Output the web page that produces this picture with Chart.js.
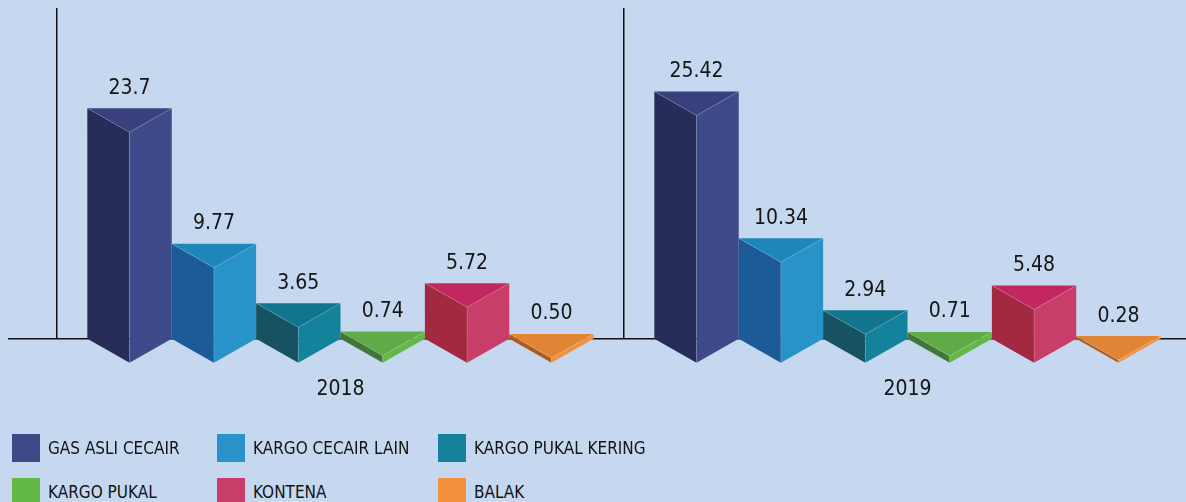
<!DOCTYPE html>
<html>
<head>
<meta charset="utf-8">
<script src="https://cdn.jsdelivr.net/npm/chart.js@4.4.1/dist/chart.umd.min.js"></script>
<style>
html, body { margin: 0; padding: 0; background: #c5d8ef; overflow: hidden; width: 1186px; height: 502px; }
#wrap { position: absolute; left: 0; top: 0; width: 1191px; height: 440px; }
.item { position: absolute; display: flex; align-items: center; font-family: "Liberation Sans Narrow", "Arial Narrow", "DejaVu Sans Condensed", sans-serif; font-size: 17px; color: #141414; white-space: nowrap; }
.box { width: 28px; height: 28px; margin-right: 8px; }
</style>
</head>
<body>
<div id="wrap"><canvas id="chart" width="1191" height="440"></canvas></div>
<div id="legend"></div>
<script>
// data
const years = ['2018', '2019'];
const seriesNames = ['GAS ASLI CECAIR', 'KARGO CECAIR LAIN', 'KARGO PUKAL KERING', 'KARGO PUKAL', 'KONTENA', 'BALAK'];
const values2018 = [23.7, 9.77, 3.65, 0.74, 5.72, 0.50];
const values2019 = [25.42, 10.34, 2.94, 0.71, 5.48, 0.28];
const labels2018 = ['23.7', '9.77', '3.65', '0.74', '5.72', '0.50'];
const labels2019 = ['25.42', '10.34', '2.94', '0.71', '5.48', '0.28'];

// prism face colours
const rightFace = ['#3e4a8a', '#2893c8', '#13829b', '#63b946', '#c83e68', '#f4913e'];
const leftFace = ['#272d58', '#1c5a98', '#175263', '#41783a', '#a2293f', '#ad5c1f'];
const topFace = ['#3a3f7e', '#1e86b8', '#12758e', '#5eab47', '#c2285f', '#e08436'];

const FONT = '"Liberation Sans Narrow", "Arial Narrow", "DejaVu Sans Condensed", sans-serif';

var datasets = seriesNames.map((name, i) => ({
    label: name,
    data: [values2018[i], values2019[i]],
    valueLabels: [labels2018[i], labels2019[i]],
    backgroundColor: rightFace[i],
    leftColor: leftFace[i],
    topColor: topFace[i]
}));

function poly(c, pts, fill) {
    c.beginPath();
    c.moveTo(pts[0][0], pts[0][1]);
    for (var k = 1; k < pts.length; k++) c.lineTo(pts[k][0], pts[k][1]);
    c.closePath();
    c.fillStyle = fill;
    c.fill();
}

const prismPlugin = {
    id: 'prisms',
    beforeDatasetsDraw(chart) {
        const c = chart.ctx;
        const y0 = chart.scales.y.getPixelForValue(0);
        c.save();
        // baseline
        c.strokeStyle = '#111';
        c.lineWidth = 1.5;
        c.beginPath();
        c.moveTo(8, y0);
        c.lineTo(chart.width, y0);
        c.stroke();

        chart.data.datasets.forEach((ds, i) => {
            const meta = chart.getDatasetMeta(i);
            meta.data.forEach((bar, j) => {
                const w = bar.width, x = bar.x, top = bar.y, base = bar.base, d = 24;
                const l = x - w / 2, r = x + w / 2;
                poly(c, [[l, top], [x, top + d], [x, base + d], [l, base]], ds.leftColor);
                poly(c, [[x, top + d], [r, top], [r, base], [x, base + d]], ds.backgroundColor);
                poly(c, [[l, top], [r, top], [x, top + d]], ds.topColor);
                c.strokeStyle = 'rgba(255,255,255,0.22)';
                c.lineWidth = 0.8;
                c.beginPath();
                c.moveTo(l, top); c.lineTo(x, top + d); c.lineTo(r, top);
                c.moveTo(x, top + d); c.lineTo(x, base + d);
                c.stroke();

                c.fillStyle = '#151515';
                c.font = '21px ' + FONT;
                c.textAlign = 'center';
                c.textBaseline = 'middle';
                c.fillText(ds.valueLabels[j], x, top - 20);
            });
        });
        c.restore();
        return false;
    }
};

const ctx = document.getElementById('chart');

var myChart = new Chart(ctx, {
    type: 'bar',
    data: { labels: years, datasets: datasets },
    options: {
        responsive: false,
        animation: false,
        layout: { padding: { left: 57, right: 0, top: 8, bottom: 0 } },
        categoryPercentage: 0.893,
        barPercentage: 1,
        plugins: { legend: { display: false }, tooltip: { enabled: false } },
        scales: {
            y: { display: false, min: 0, max: 34 },
            x: {
                grid: { offset: true, color: '#111', lineWidth: 1.5, drawTicks: false },
                border: { display: false },
                ticks: { color: '#151515', font: { family: FONT, size: 21 }, padding: 38 }
            }
        }
    },
    plugins: [prismPlugin]
});

// legend in three columns
const legendLeft = [12, 217, 438];
const legendTop = [434, 478];
var legendDiv = document.getElementById('legend');
myChart.data.datasets.forEach((ds, i) => {
    var item = document.createElement('div');
    item.className = 'item';
    item.style.left = legendLeft[i % 3] + 'px';
    item.style.top = legendTop[Math.floor(i / 3)] + 'px';
    item.innerHTML = `<div class="box" style="background:${ds.backgroundColor}"></div><span>${ds.label}</span>`;
    legendDiv.appendChild(item);
});
</script>
</body>
</html>
